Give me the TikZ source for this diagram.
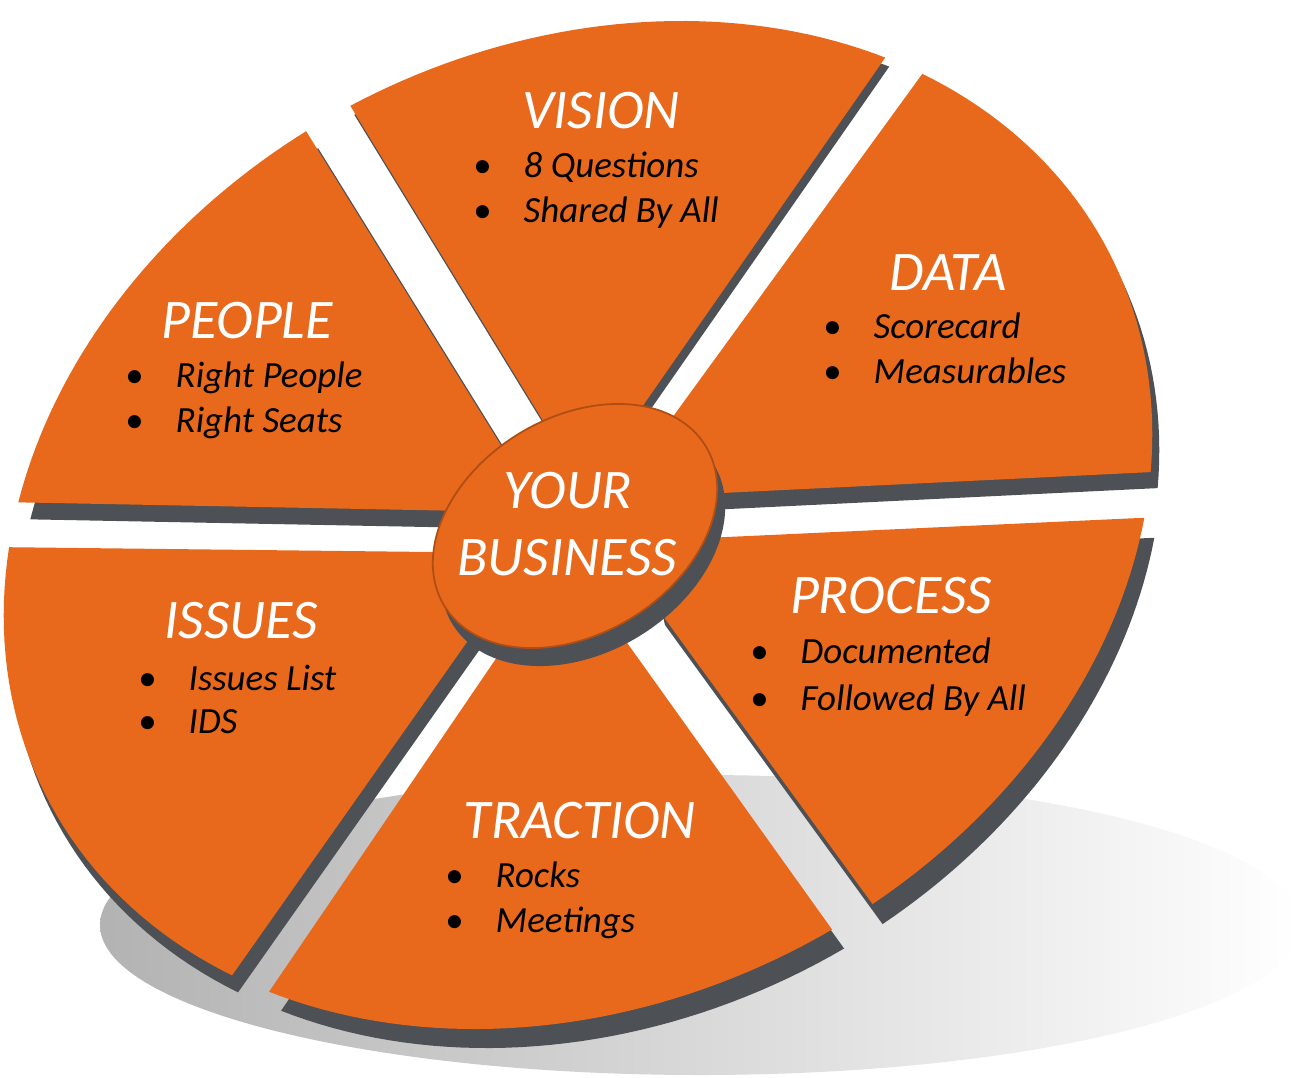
\documentclass[tikz,border=0pt]{standalone}
\usepackage{fontspec}
\setmainfont{Carlito}
\usepackage{xcolor}
\usepackage{tikz}
\usetikzlibrary{calc}

\definecolor{evsOrange}{HTML}{E8681C}
\definecolor{evsSide}{HTML}{4D5054}

\tikzset{
  topface/.style={fill=evsOrange},
  sideface/.style={fill=evsSide},
  segtitle/.style={anchor=base, inner sep=0pt, text=white,
    font=\fontsize{15.9}{19}\selectfont\itshape},
  segitem/.style={anchor=base west, inner sep=0pt, text=black,
    font=\fontsize{10.5}{12.6}\selectfont\itshape}
}
% rim of the tilted wheel, angle #1
\newcommand{\rimx}[1]{578+531.9*cos(#1)+216.6*sin(#1)}
\newcommand{\rimy}[1]{525-271.0*cos(#1)+425.0*sin(#1)}
% bullet hanging 41px left of the item text
\newcommand{\bul}{\llap{\makebox[0.82cm]{\upshape\textbullet}}}
% one piece of the wheel: side face shifted by #2, top face on it
\newcommand{\wedgepiece}[2]{\fill[sideface, shift={#2}] #1; \fill[topface] #1;}

\begin{document}
\begin{tikzpicture}[x=0.01cm, y=-0.01cm]
        \useasboundingbox (0,0) rectangle (1305,1078);
        \fill[white] (0,0) rectangle (1305,1078);

        % Ground shadow
        \shade[left color=black!30, middle color=black!26, right color=white]
          (700,925) ellipse [x radius=600, y radius=150];

        % Vision
        \wedgepiece{plot[domain=268.8:324.5, samples=40] ({\rimx{\x}}, {\rimy{\x}}) -- (610,453) -- (556,442) -- cycle}{(4,9)}

        % Data
        \wedgepiece{plot[domain=329:386.5, samples=40] ({\rimx{\x}}, {\rimy{\x}}) -- (640,497) -- (640,462) -- cycle}{(7,16)}

        % Process
        \wedgepiece{plot[domain=31.7:81.3, samples=40] ({\rimx{\x}}, {\rimy{\x}}) -- (655,605) -- (640,541) -- cycle}{(10,20)}

        % Traction
        \wedgepiece{plot[domain=85.9:144.7, samples=40] ({\rimx{\x}}, {\rimy{\x}}) -- (540,594) -- (600,605) -- cycle}{(12,19)}

        % Issues
        \wedgepiece{plot[domain=149.2:210, samples=40] ({\rimx{\x}}, {\rimy{\x}}) -- (520,553) -- (510,581) -- cycle}{(6,17)}

        % People
        \wedgepiece{plot[domain=215.1:263.9, samples=40] ({\rimx{\x}}, {\rimy{\x}}) -- (533,497) -- (520,512) -- cycle}{(12,17)}

        % Hub
        \fill[sideface, shift={(8,18)}] plot[domain=0:360, samples=90, smooth]
          ({575+140*cos(\x)-25*sin(\x)}, {526-16*cos(\x)+121*sin(\x)}) -- cycle;
        \fill[topface, draw=evsOrange!75!black, line width=0.5pt] plot[domain=0:360, samples=90, smooth]
          ({575+140*cos(\x)-25*sin(\x)}, {526-16*cos(\x)+121*sin(\x)}) -- cycle;
        \node (your) [segtitle] at (568,508) {YOUR};
        \node (business) [segtitle] at (567,575) {BUSINESS};

        % Vision text
        \node (vision) [segtitle] at (601,128) {VISION};
        \node (visionA) [segitem] at (523,177) {\bul 8 Questions};
        \node (visionB) [segitem] at (523,222) {\bul Shared By All};

        % Data text
        \node (data) [segtitle] at (948,290) {DATA};
        \node (dataA) [segitem] at (873,338) {\bul Scorecard};
        \node (dataB) [segitem] at (873,383) {\bul Measurables};

        % Process text
        \node (process) [segtitle] at (891,613) {PROCESS};
        \node (processA) [segitem] at (800,663) {\bul Documented};
        \node (processB) [segitem] at (800,710) {\bul Followed By All};

        % Traction text
        \node (traction) [segtitle] at (580,838) {TRACTION};
        \node (tractionA) [segitem] at (495,887) {\bul Rocks};
        \node (tractionB) [segitem] at (495,932) {\bul Meetings};

        % Issues text
        \node (issues) [segtitle] at (241,638) {ISSUES};
        \node (issuesA) [segitem] at (188,690) {\bul Issues List};
        \node (issuesB) [segitem] at (188,733) {\bul IDS};

        % People text
        \node (people) [segtitle] at (247,338) {PEOPLE};
        \node (peopleA) [segitem] at (175,387) {\bul Right People};
        \node (peopleB) [segitem] at (175,432) {\bul Right Seats};
\end{tikzpicture}
\end{document}
